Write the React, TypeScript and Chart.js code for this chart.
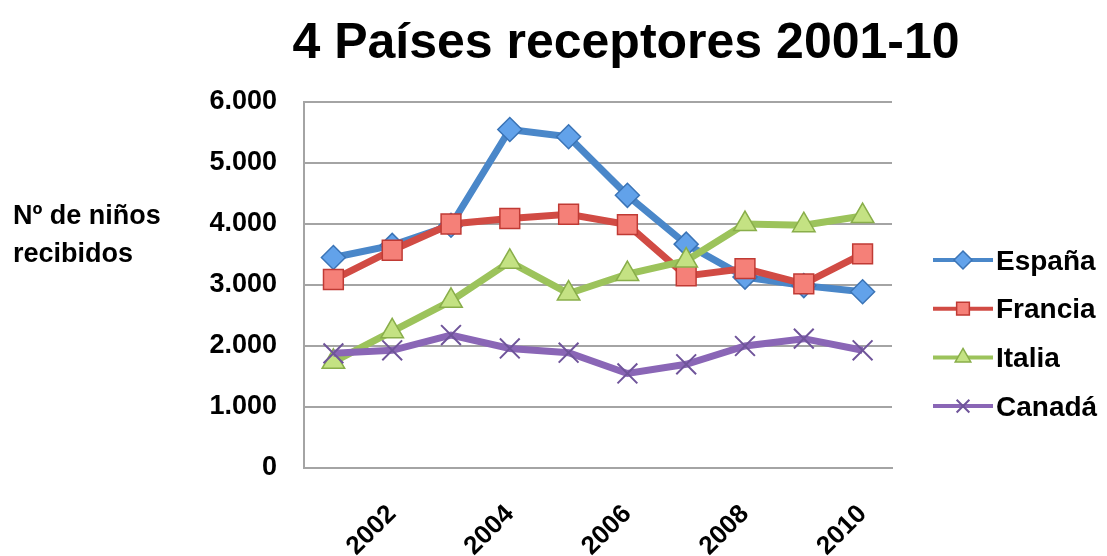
import React, { useEffect, useRef } from "react";
import { Chart, registerables } from "chart.js";

Chart.register(...registerables);

const years = ["2001", "2002", "2003", "2004", "2005", "2006", "2007", "2008", "2009", "2010"];
const shownYears = ["2002", "2004", "2006", "2008", "2010"];
const seriesNames = ["España", "Francia", "Italia", "Canadá"];
const espana = [3450, 3650, 3980, 5550, 5430, 4470, 3670, 3130, 2990, 2890];
const francia = [3090, 3570, 4000, 4090, 4160, 3990, 3150, 3270, 3020, 3510];
const italia = [1740, 2240, 2740, 3380, 2860, 3180, 3400, 4000, 3980, 4130];
const canada = [1880, 1930, 2180, 1960, 1890, 1550, 1700, 2000, 2120, 1930];
const yMin = 0;
const yMax = 6000;
const yStep = 1000;
const titleText = "4 Países receptores 2001-10";
const yTitleLines = ["Nº de niños", "recibidos"];

const FONT = "'Liberation Sans', Arial, Helvetica, sans-serif";
const GRID = "#a4a4a4";

const seriesData = [espana, francia, italia, canada];
const styles = [
  { line: "#4a87c9", fill: "#62a2ea", border: "#3b74b6", point: "rectRot", radius: 12, pbw: 1.5 },
  { line: "#d14b44", fill: "#f58078", border: "#c03a34", point: "rect", radius: 14, pbw: 1.5 },
  { line: "#9cc35b", fill: "#c4e283", border: "#89ae4a", point: "triangle", radius: 13, pbw: 1.5 },
  { line: "#8a66b6", fill: "#8a66b6", border: "#6f549a", point: "crossRot", radius: 14, pbw: 2 },
];

function fmt(v: number): string {
  return String(v).replace(/\B(?=(\d{3})+(?!\d))/g, ".");
}

function drawMarker(ctx: CanvasRenderingContext2D, kind: string, x: number, y: number, r: number, fill: string, stroke: string, bw: number) {
  ctx.save();
  ctx.fillStyle = fill;
  ctx.strokeStyle = stroke;
  ctx.lineWidth = bw;
  ctx.beginPath();
  if (kind === "rectRot") {
    ctx.moveTo(x, y - r);
    ctx.lineTo(x + r, y);
    ctx.lineTo(x, y + r);
    ctx.lineTo(x - r, y);
    ctx.closePath();
    ctx.fill();
    ctx.stroke();
  } else if (kind === "rect") {
    const s = r * Math.SQRT1_2;
    ctx.rect(x - s, y - s, 2 * s, 2 * s);
    ctx.fill();
    ctx.stroke();
  } else if (kind === "triangle") {
    ctx.moveTo(x, y - r);
    ctx.lineTo(x + 0.866 * r, y + 0.5 * r);
    ctx.lineTo(x - 0.866 * r, y + 0.5 * r);
    ctx.closePath();
    ctx.fill();
    ctx.stroke();
  } else {
    const d = r * Math.SQRT1_2;
    ctx.moveTo(x - d, y - d);
    ctx.lineTo(x + d, y + d);
    ctx.moveTo(x + d, y - d);
    ctx.lineTo(x - d, y + d);
    ctx.stroke();
  }
  ctx.restore();
}

const overlayPlugin = {
  id: "overlayText",
  afterDraw(chart: any) {
    const ctx: CanvasRenderingContext2D = chart.ctx;
    const area = chart.chartArea;
    ctx.save();
    ctx.fillStyle = "#000";
    // Title
    ctx.font = `bold 50px ${FONT}`;
    ctx.textAlign = "center";
    ctx.textBaseline = "alphabetic";
    ctx.fillText(titleText, area.left + 322, 58);
    // Y axis title (horizontal, two lines)
    ctx.font = `bold 27px ${FONT}`;
    ctx.textAlign = "left";
    ctx.fillText(yTitleLines[0], 13, 224);
    ctx.fillText(yTitleLines[1], 13, 262);
    // Legend
    const x0 = area.right + 41;
    const lineLen = 60;
    chart.data.datasets.forEach((ds: any, i: number) => {
      const st = styles[i];
      const y = 260 + i * 48.7;
      ctx.save();
      ctx.strokeStyle = st.line;
      ctx.lineWidth = 4;
      ctx.beginPath();
      ctx.moveTo(x0, y);
      ctx.lineTo(x0 + lineLen, y);
      ctx.stroke();
      ctx.restore();
      drawMarker(ctx, st.point, x0 + lineLen / 2, y, 9, st.fill, st.border, st.pbw);
      ctx.fillStyle = "#000";
      ctx.font = `bold 28px ${FONT}`;
      ctx.textAlign = "left";
      ctx.textBaseline = "middle";
      ctx.fillText(ds.label, x0 + lineLen + 3, y + 2);
    });
    ctx.restore();
  },
};

export default function App() {
  const canvasRef = useRef<HTMLCanvasElement | null>(null);

  useEffect(() => {
    if (!canvasRef.current) return;
    const datasets = seriesNames.map((name, i) => ({
      label: name,
      data: seriesData[i],
      borderColor: styles[i].line,
      backgroundColor: styles[i].fill,
      borderWidth: 7,
      tension: 0,
      fill: false,
      pointStyle: styles[i].point,
      pointRadius: styles[i].radius,
      pointHoverRadius: styles[i].radius,
      pointBackgroundColor: styles[i].fill,
      pointBorderColor: styles[i].border,
      pointBorderWidth: styles[i].pbw,
      order: seriesNames.length - i,
    }));

    const chart = new Chart(canvasRef.current, {
      type: "line",
      data: { labels: years, datasets },
      options: {
        responsive: false,
        animation: false,
        devicePixelRatio: 1,
        layout: { padding: { top: 102, right: 215, bottom: 0, left: 0 } },
        plugins: {
          legend: { display: false },
          title: { display: false },
          tooltip: { enabled: false },
        },
        scales: {
          x: {
            offset: true,
            grid: { display: false, drawTicks: false },
            border: { display: true, color: GRID, width: 2 },
            ticks: {
              autoSkip: false,
              minRotation: 45,
              maxRotation: 45,
              padding: 31,
              color: "#000",
              font: { family: FONT, size: 26, weight: "bold" },
              callback: (_v: any, idx: number) => (shownYears.includes(years[idx]) ? years[idx] : ""),
            },
            afterFit: (scale: any) => {
              scale.height = 88;
            },
          },
          y: {
            min: yMin,
            max: yMax,
            grid: { color: GRID, lineWidth: 2, drawTicks: false },
            border: { display: true, color: GRID, width: 2 },
            ticks: {
              stepSize: yStep,
              padding: 27,
              color: "#000",
              font: { family: FONT, size: 27, weight: "bold" },
              callback: (v: any) => fmt(Number(v)),
            },
            afterFit: (scale: any) => {
              scale.width = 304;
            },
          },
        },
      },
      plugins: [overlayPlugin],
    });
    return () => chart.destroy();
  }, []);

  return (
    <div style={{ position: "absolute", left: 0, top: 0, width: 1107, height: 556, background: "#fff" }}>
      <canvas ref={canvasRef} width={1107} height={556} style={{ display: "block" }} />
    </div>
  );
}
